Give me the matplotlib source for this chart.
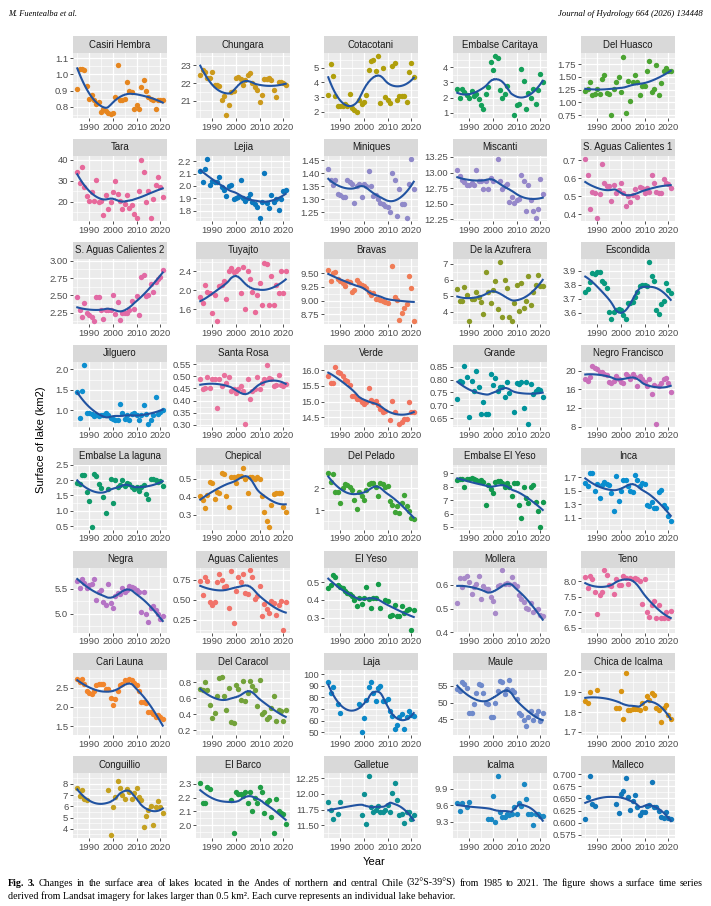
import matplotlib
matplotlib.use('Agg')
import matplotlib.pyplot as plt
import numpy as np

# one value per year 1985..2021, None = no image that year
years = list(range(1985, 2022))

casiri_hembra = [0.91, 1.03, 1.035, 1.025, 0.93, 0.85, 0.87, 0.84, 0.82, 0.83, 0.77, 0.79, 0.775, 0.76, 0.755, 0.76, 0.86, 1.055, 0.84, 0.845,
                 0.85, 0.95, 0.9, 0.89, 0.79, 0.81, 0.79, 0.92, 0.965, 0.895, 0.86, 0.85, 0.84, 0.785, 0.84, 0.845, 0.84]
chungara = [22.45, 22.75, 22.6, 22.3, 22.3, 22.6, 21.9, 21.9, 21.85, 21.05, 21.3, 20.2, 20.75, 21.5, 21.55, 22.3, 22.35, 22.25, 21.9, 22.15,
            22.45, 22.55, 22.0, 21.8, 21.6, 20.95, 21.35, 22.25, 22.25, 22.3, 22.15, 21.6, 21.2, 22.05, 22.05, 22.0, 21.9]
cotacotani = [3.15, 5.25, 4.45, 3.1, 2.4, 2.4, 2.4, 2.5, 2.4, 3.2, 2.25, 2.1, 2.0, 2.8, 2.55, 2.65, 3.15, 4.85, 5.45, 5.55,
              4.8, 5.8, 2.6, 5.0, 3.0, 2.8, 2.6, 5.1, 5.3, 2.8, 3.1, 3.1, 3.1, 2.7, 4.7, 5.3, 4.4]
embalse_caritaya = [2.6, 2.0, 2.6, 2.35, 2.15, 2.0, 2.45, 2.1, 2.25, 1.9, 1.5, 1.25, 2.25, 2.7, 4.35, 3.85, 4.75, 4.6, 2.5, 2.0,
                    2.25, 2.75, None, None, 0.85, 1.5, 1.55, 3.9, 3.1, 1.25, 2.3, 2.0, 2.55, 1.6, 2.5, 3.55, 3.05]
del_huasco = [1.22, 1.27, 1.4, 1.15, 1.17, 1.27, 1.17, 1.45, 1.53, 1.19, 1.16, 0.75, 1.27, 1.39, 1.5, 1.2, 1.9, 0.8, 1.42, 1.02,
              1.4, 1.53, 1.4, 1.15, 1.33, 1.32, 1.61, 1.81, 1.2, 1.27, 1.73, 1.14, 1.37, 1.61, 1.68, 1.61, 1.62]
tara = [33.9, 28.9, 36.7, 26.9, 22.7, 20.3, 24.5, 20.2, 30.3, 19.8, 20.2, 13.9, 23.0, 16.7, 19.8, 24.5, 30.0, 23.8, 20.2, 16.7,
        19.0, 23.3, 17.0, 18.3, 14.4, 12.3, 25.3, 39.7, 33.9, 19.8, 25.0, 12.5, 21.1, 28.0, 31.9, 26.9, 22.2]
lejia = [2.12, 2.03, 2.14, 2.22, 2.01, 2.04, 2.03, 2.035, 2.075, 1.99, 1.97, 1.915, 2.0, 2.01, 1.895, 1.9, 1.91, 2.05, 1.905, 1.88,
         1.9, 1.935, 1.87, 1.855, 1.83, 1.74, 1.87, 2.105, 1.865, 1.82, 1.93, 1.87, 1.895, 1.805, 1.89, 1.96, 1.965]
miniques = [1.415, 1.375, 1.355, 1.372, 1.32, 1.315, 1.31, 1.31, 1.375, 1.366, 1.357, 1.285, 1.35, 1.357, 1.31, 1.357, 1.35, 1.41, 1.35, 1.312,
            1.316, 1.30, 1.285, 1.28, 1.275, 1.27, 1.25, 1.40, 1.372, 1.237, 1.34, 1.283, 1.28, 1.228, 1.36, 1.455, 1.34]
miscanti = [13.04, 12.95, 12.88, 12.84, 12.8, 12.8, 12.83, 12.8, 13.04, 12.87, 12.87, 12.73, 12.87, 12.74, 12.91, 12.87, None, 13.22, 12.86, 12.73,
            12.79, 12.81, 12.53, 12.6, 12.51, 12.56, 12.58, 12.96, 12.86, 12.38, 12.8, 12.56, 12.38, 12.27, 12.41, 12.9, 12.65]
s_aguas_calientes_1 = [0.707, 0.618, 0.43, 0.525, 0.518, 0.38, 0.513, 0.676, 0.571, 0.558, 0.558, 0.476, 0.565, 0.518, 0.536, 0.576, 0.518, 0.445, 0.504, 0.467,
                       0.507, 0.54, 0.495, 0.549, 0.544, 0.516, 0.544, 0.522, 0.616, 0.576, 0.522, 0.516, 0.518, 0.598, 0.576, 0.567, 0.544]
s_aguas_calientes_2 = [2.48, 2.29, 2.18, 2.39, 2.24, 2.21, 2.18, 2.13, 2.47, 2.47, 2.29, 2.15, 2.29, 2.29, 2.28, 2.5, 2.23, 2.4, 2.14, 2.24,
                       2.25, 2.25, 2.29, 2.42, 2.3, 2.49, 2.21, 2.77, 2.8, 2.49, 2.51, 2.66, 2.55, 2.69, 2.74, 2.77, 2.87]
tuyajto = [1.86, 1.72, 2.12, 1.96, 1.94, 1.51, 1.89, 1.35, 2.08, 2.12, 2.19, 1.82, 2.41, 2.47, 2.38, 2.40, 2.45, 1.94, 2.49, 1.61,
           2.40, 2.24, 1.96, 1.53, 1.89, 2.15, 1.68, 2.58, 2.56, 1.68, 2.29, 1.68, 2.1, 1.93, 2.4, 1.93, 2.4]
bravas = [9.55, 9.35, 9.5, 9.52, 9.39, 9.35, 9.31, 9.27, 9.35, 9.33, 9.15, 9.2, 9.37, 9.32, 9.29, 9.27, 9.23, 9.15, 9.1, 9.14,
          9.03, 9.02, 9.01, 9.0, 8.98, 8.95, None, 9.63, 9.07, 9.01, 8.65, 8.77, 8.87, 8.93, 9.44, 9.22, 8.63]
de_la_azufrera = [5.42, 4.69, 4.69, 5.52, 5.04, 3.44, 4.79, 4.79, 5.25, 4.9, 4.63, 3.85, 6.5, 5.25, 4.58, 5.37, 5.94, 4.17, 7.12, 3.71,
                  6.0, 5.46, 3.71, 3.44, 4.58, 5.67, 4.06, 5.79, 4.27, 4.69, 6.25, 4.42, 5.25, 5.67, 6.29, 5.58, 5.58]
escondida = [3.746, 3.77, 3.817, 3.883, 3.876, 3.892, 3.892, 3.828, 3.812, 3.774, 3.608, 3.556, 3.608, 3.622, 3.627, 3.616, 3.585, 3.556, 3.67, 3.67,
             3.675, 3.71, 3.75, 3.788, 3.798, 3.798, 3.788, 3.963, 3.86, 3.828, 3.622, 3.592, 3.663, 3.68, 3.812, 3.765, 3.74]
jilguero = [1.45, 0.81, 1.48, 2.11, 0.94, 0.94, 0.92, 0.86, 0.89, 0.86, 0.88, 0.88, 0.93, 0.88, 0.81, 0.8, 0.76, 0.78, 1.16, 0.94,
            0.8, 0.89, 0.76, 0.92, 0.94, 0.88, 0.76, 0.88, 1.13, 0.92, 0.68, 0.76, 0.89, 1.32, 0.92, 0.96, 1.02]
santa_rosa = [0.487, 0.449, 0.453, 0.496, 0.453, 0.487, 0.487, 0.371, 0.487, 0.46, 0.507, 0.473, 0.498, 0.439, 0.446, 0.43, 0.446, 0.46, 0.439, 0.305,
              0.487, 0.408, 0.439, 0.449, 0.498, 0.446, 0.473, 0.487, 0.548, 0.494, 0.49, 0.46, 0.466, 0.507, 0.466, 0.46, 0.47]
verde = [15.83, 15.6, 15.6, 16.1, 15.94, 15.92, 15.83, 15.7, 15.66, 15.52, 15.19, 15.17, 15.08, 15.08, 14.98, 14.93, 14.98, 15.45, 15.06, 14.98,
         15.03, 14.88, 14.77, 14.67, 14.69, None, 14.43, 15.03, 14.67, None, 14.3, 14.37, 14.46, 14.46, 15.0, 14.67, 14.67]
grande = [0.723, 0.796, 0.792, 0.854, 0.809, 0.654, 0.796, 0.754, 0.835, 0.77, 0.667, 0.712, 0.667, 0.667, 0.822, 0.777, 0.805, 0.757, 0.77, 0.77,
          0.732, 0.79, 0.748, None, 0.674, 0.787, 0.783, 0.79, 0.689, 0.79, 0.628, 0.783, 0.745, 0.757, 0.764, 0.761, 0.732]
negro_francisco = [18.1, 17.8, 18.7, 21.0, 20.6, 20.3, 19.7, 19.6, 19.2, 19.0, 17.6, 17.4, 17.8, 18.9, 18.1, 17.6, 17.3, 19.2, 18.9, 18.1,
                   19.2, 18.7, 16.7, 18.9, 18.1, 17.6, 16.7, 18.1, 14.9, 16.9, 8.6, 16.7, 17.4, 18.1, 18.5, 17.3, 15.4]
embalse_la_laguna = [1.9, 1.87, 2.16, 2.16, 1.62, 1.33, 0.49, 2.19, 2.12, 1.87, 1.73, 1.44, 0.93, 1.71, 2.03, 1.25, 2.01, 1.76, 1.84, 2.01,
                     1.82, 1.92, 1.87, 1.76, 1.71, 1.76, 1.65, 1.76, 1.84, 1.55, 1.38, 2.03, 2.05, 2.01, 1.95, 1.98, 1.8]
chepical = [0.404, 0.381, 0.339, 0.407, 0.481, 0.474, 0.389, 0.426, 0.419, 0.533, 0.524, 0.404, 0.344, 0.511, 0.506, 0.478, 0.515, 0.515, 0.561, 0.496,
            0.422, 0.511, 0.506, 0.5, 0.511, 0.5, 0.404, 0.315, 0.265, 0.233, 0.352, 0.413, 0.419, 0.419, 0.422, 0.344, 0.315]
del_pelado = [2.7, 2.3, 2.64, 1.85, 1.85, 1.33, 2.0, 2.19, 2.15, 2.07, 1.93, 1.48, 1.06, 1.85, 1.66, 1.45, 1.93, 2.19, 2.25, 2.22,
              2.04, 1.63, 2.22, 2.19, 2.04, 2.1, 1.4, 1.25, 0.91, 1.18, 0.85, 1.33, 1.7, 1.18, 0.96, 0.66, 0.58]
embalse_el_yeso = [8.5, 8.55, 8.6, 8.0, 8.6, 8.55, 8.67, 8.6, 8.5, 8.42, 8.5, 8.35, 6.61, 8.1, 7.85, 7.5, 8.35, 8.42, 8.42, 8.3,
                   8.0, 8.3, 8.0, 7.31, 8.25, 8.25, 6.61, 5.69, 8.0, 7.18, 6.76, 8.0, 8.17, 6.86, 6.19, 5.02, 6.86]
inca = [1.62, 1.57, 1.76, 1.76, 1.5, 1.6, 1.39, 1.58, 1.63, 1.6, 1.58, 1.47, 1.2, 1.72, 1.35, 1.5, 1.66, 1.65, 1.57, 1.49,
        1.48, 1.73, 1.65, 1.57, 1.61, 1.6, 1.29, 1.28, 1.33, 1.25, 1.24, 1.48, 1.51, 1.29, 1.25, 1.13, 1.05]
negra = [5.65, 5.51, 5.69, 5.6, 5.51, 5.56, 5.58, 5.68, 5.28, 5.43, 5.47, 5.23, 5.18, 5.58, 5.21, 5.11, 5.36, 5.41, 5.4, 5.51,
         5.43, 5.48, 5.55, 5.53, 5.51, 5.48, 5.43, 5.03, 5.43, 5.0, 4.83, 5.11, 5.15, 5.08, 5.0, 4.89, 4.95]
aguas_calientes = [0.742, 0.559, 0.784, 0.742, 0.475, 0.432, 0.475, 0.72, 0.826, 0.754, 0.657, 0.678, 0.403, 0.856, 0.212, 0.614, 0.784, 0.729, 0.826, 0.585,
                   0.572, 0.869, 0.784, 0.508, 0.551, 0.669, 0.297, 0.445, 0.39, 0.339, 0.487, 0.466, 0.305, 0.432, 0.487, 0.127, 0.475]
el_yeso = [0.469, 0.484, 0.54, 0.527, 0.484, 0.475, 0.465, 0.452, 0.441, 0.434, 0.419, 0.4, 0.363, 0.409, 0.378, 0.409, 0.475, 0.404, 0.353, 0.409,
           0.41, 0.49, 0.353, None, 0.4, 0.396, 0.307, 0.316, 0.372, 0.31, 0.307, 0.366, 0.325, 0.34, 0.348, 0.232, 0.34]
mollera = [0.522, 0.627, 0.589, 0.627, 0.635, 0.613, 0.56, 0.589, 0.603, 0.638, 0.542, 0.596, 0.584, 0.584, 0.55, 0.532, 0.482, 0.593, 0.599, 0.66,
           0.603, 0.607, 0.603, 0.631, 0.603, 0.596, 0.556, 0.542, 0.528, 0.504, 0.499, 0.522, 0.485, 0.494, 0.499, 0.475, 0.471]
teno = [8.14, 7.79, 8.17, 8.09, 7.64, 6.93, 7.55, 7.64, 8.35, 8.21, 7.89, 7.85, 7.6, 8.09, 7.89, 7.89, 8.17, 8.11, 7.92, 8.11,
        8.06, 8.11, 8.09, 8.0, 7.28, 8.06, 7.01, 6.85, 7.23, 7.36, 6.82, 7.25, 6.82, 6.82, 7.01, 6.82, 7.04]
cari_launa = [2.71, 2.65, 2.71, 2.6, 2.4, 2.36, 2.33, 2.4, 2.56, 2.58, 2.6, 2.6, 2.45, 2.45, 2.24, 2.06, 2.2, 2.4, 2.56, 2.6,
              2.69, 2.67, 2.71, 2.69, 2.63, 2.56, 2.4, 2.12, 2.12, 2.09, 1.87, 1.87, 1.82, 1.73, 1.78, 1.73, 1.69]
del_caracol = [0.72, 0.697, 0.8, 0.697, 0.515, 0.349, 0.41, 0.631, 0.85, 0.86, 0.631, 0.457, 0.728, 0.302, 0.29, 0.766, 0.72, 0.58, 0.81, 0.565,
               0.67, 0.81, 0.747, 0.708, 0.503, 0.825, 0.4, 0.426, 0.333, 0.36, 0.476, 0.631, 0.31, 0.457, 0.437, 0.31, 0.449]
laja = [93, 84, 89, None, 74, 67, None, None, None, None, None, None, None, 74, 50, 62, 78, 89, 93, 84,
        77, 88, 90, 77, 77, 79, 68, 64, 53, 56, 63, 66, 53, 63, 68, 65, 64]
maule = [54, 53.5, 56.2, 55.5, 54.5, 46.8, 47, 49.5, 52.8, 55.5, 55.2, 52.8, 49.8, 49.5, 45.8, 45.8, 50, 53.5, 56.5, 56.2,
         52.5, 54.2, 56.8, 53.8, 53.2, 51.2, 47, 46.2, 44.8, 43, 45.8, 47.5, 44.8, 46.2, 47.5, 44.5, 46.8]
chica_de_icalma = [1.858, 1.845, 1.9, None, None, 1.913, None, None, None, None, None, None, None, 1.82, 1.82, 1.908, 1.767, 1.995, 1.808, 1.808,
                   1.813, 1.817, 1.817, 1.808, 1.847, 1.82, 1.88, 1.863, 1.897, 1.887, 1.82, 1.808, 1.75, 1.82, 1.833, 1.783, 1.767]
conguillio = [7.66, 6.94, 7.45, 6.64, 6.55, None, None, None, None, None, None, None, None, 7.45, 3.42, 5.96, 6.85, 8.25, 7.66, 7.0,
              6.64, 7.54, 7.3, 6.64, 7.15, 7.66, 6.85, 6.55, 4.16, 5.15, 5.66, 6.04, 4.31, 5.96, 6.46, 5.96, 5.36]
el_barco = [2.31, 2.16, 2.16, 2.28, 2.26, None, None, None, None, None, None, None, None, 2.18, 1.94, 2.24, 2.23, 2.23, 2.21, 2.24,
            2.16, 2.24, 2.1, 2.2, 2.16, 2.28, 2.24, 2.09, 2.17, 2.18, 2.06, 1.94, 2.19, 2.1, 2.09, 2.08, 2.01]
galletue = [11.87, 11.74, 11.61, None, 11.68, 11.87, None, None, None, None, None, None, None, None, 11.67, 12.0, 11.52, 12.28, 11.79, 11.72,
            11.74, 11.81, 11.72, 11.72, 11.74, 11.83, 11.72, 12.02, 12.17, 11.91, 11.66, 11.68, 11.54, 11.72, 11.72, 11.61, 11.67]
icalma = [9.64, 9.5, 9.64, None, 9.56, 9.65, None, None, None, None, None, None, None, 9.36, 9.36, 9.76, 9.3, 10.12, 9.48, 9.38,
          9.39, 9.44, 9.42, 9.45, 9.56, 9.45, 9.64, 9.59, 9.98, 9.72, 9.45, 9.44, 9.24, 9.45, 9.45, 9.41, 9.41]
malleco = [0.608, 0.653, 0.696, 0.638, 0.634, None, None, None, None, None, None, None, None, 0.638, 0.62, 0.66, 0.665, 0.692, 0.653, 0.626,
           0.645, 0.657, 0.633, 0.616, 0.623, 0.623, 0.635, 0.636, 0.684, 0.633, 0.633, 0.624, 0.611, 0.609, 0.623, 0.609, 0.608]

lakes = ['Casiri Hembra', 'Chungara', 'Cotacotani', 'Embalse Caritaya', 'Del Huasco',
         'Tara', 'Lejia', 'Miniques', 'Miscanti', 'S. Aguas Calientes 1',
         'S. Aguas Calientes 2', 'Tuyajto', 'Bravas', 'De la Azufrera', 'Escondida',
         'Jilguero', 'Santa Rosa', 'Verde', 'Grande', 'Negro Francisco',
         'Embalse La laguna', 'Chepical', 'Del Pelado', 'Embalse El Yeso', 'Inca',
         'Negra', 'Aguas Calientes', 'El Yeso', 'Mollera', 'Teno',
         'Cari Launa', 'Del Caracol', 'Laja', 'Maule', 'Chica de Icalma',
         'Conguillio', 'El Barco', 'Galletue', 'Icalma', 'Malleco']

series = [casiri_hembra, chungara, cotacotani, embalse_caritaya, del_huasco,
          tara, lejia, miniques, miscanti, s_aguas_calientes_1,
          s_aguas_calientes_2, tuyajto, bravas, de_la_azufrera, escondida,
          jilguero, santa_rosa, verde, grande, negro_francisco,
          embalse_la_laguna, chepical, del_pelado, embalse_el_yeso, inca,
          negra, aguas_calientes, el_yeso, mollera, teno,
          cari_launa, del_caracol, laja, maule, chica_de_icalma,
          conguillio, el_barco, galletue, icalma, malleco]

colors = ['#E6861F', '#CC9A1C', '#B09F0B', '#15A05A', '#4CA432',
          '#E7699B', '#0B78BE', '#8F89C9', '#9688CA', '#DA6DAA',
          '#E26AA5', '#E96A98', '#F07C56', '#8A9A26', '#089A7E',
          '#0E8FCF', '#E9719C', '#F1735E', '#00939B', '#C96FBA',
          '#0F9A6A', '#E1931C', '#3FA436', '#12994E', '#0A8ECF',
          '#B574C5', '#F1736A', '#159B48', '#A88AC9', '#E66B9D',
          '#F2852C', '#73A23A', '#0B88C8', '#6F8ACB', '#D99412',
          '#C4A121', '#219E46', '#0D9093', '#1A88C3', '#1278BA']

yticks = [[0.8, 0.9, 1.0, 1.1], [21, 22, 23], [2, 3, 4, 5], [1, 2, 3, 4], [0.75, 1.0, 1.25, 1.5, 1.75],
          [20, 30, 40], [1.8, 1.9, 2.0, 2.1, 2.2], [1.25, 1.30, 1.35, 1.40, 1.45], [12.25, 12.5, 12.75, 13.0, 13.25], [0.4, 0.5, 0.6, 0.7],
          [2.25, 2.5, 2.75, 3.0], [1.6, 2.0, 2.4], [8.75, 9.0, 9.25, 9.5], [4, 5, 6, 7], [3.6, 3.7, 3.8, 3.9],
          [1.0, 1.5, 2.0], [0.30, 0.35, 0.40, 0.45, 0.50, 0.55], [14.5, 15.0, 15.5, 16.0], [0.65, 0.70, 0.75, 0.80, 0.85], [8, 12, 16, 20],
          [0.5, 1.0, 1.5, 2.0, 2.5], [0.3, 0.4, 0.5], [1, 2], [5, 6, 7, 8, 9], [1.1, 1.3, 1.5, 1.7],
          [5.0, 5.5], [0.25, 0.5, 0.75], [0.3, 0.4, 0.5], [0.4, 0.5, 0.6], [6.5, 7.0, 7.5, 8.0],
          [1.5, 2.0, 2.5], [0.2, 0.4, 0.6, 0.8], [50, 60, 70, 80, 90, 100], [40, 45, 50, 55], [1.7, 1.8, 1.9, 2.0],
          [4, 5, 6, 7, 8], [1.9, 2.0, 2.1, 2.2, 2.3], [11.5, 11.75, 12.0, 12.25], [9.0, 9.3, 9.6, 9.9], [0.575, 0.6, 0.625, 0.65, 0.675, 0.7]]

xticks = [1990, 2000, 2010, 2020]
SPAN = 0.75


def loess_rows(x, x0s, span):
    # rows of the local-quadratic smoother matrix (tricube weights)
    q = int(np.floor(len(x) * span))
    rows = []
    for x0 in x0s:
        d = np.abs(x - x0)
        h = np.sort(d)[q - 1]
        w = np.clip(1 - (d / h) ** 3, 0, None) ** 3
        A = np.vstack([np.ones_like(x), x - x0, (x - x0) ** 2]).T
        M = A.T @ (A * w[:, None])
        rows.append(np.linalg.solve(M, (A * w[:, None]).T)[0])
    return np.array(rows)


def smooth(x, y, n=80, span=SPAN):
    xs = np.linspace(x.min(), x.max(), n)
    Ls = loess_rows(x, xs, span)
    L = loess_rows(x, x, span)
    fit = Ls @ y
    R = np.eye(len(x)) - L
    RR = R.T @ R
    d1 = np.trace(RR)
    d2 = np.trace(RR @ RR)
    sigma = np.sqrt(np.sum((R @ y) ** 2) / d1)
    df = d1 ** 2 / d2
    z = 1.959964
    t = z + (z ** 3 + z) / (4 * df) + (5 * z ** 5 + 16 * z ** 3 + 3 * z) / (96 * df ** 2)
    se = sigma * np.sqrt(np.sum(Ls ** 2, axis=1))
    return xs, fit, fit - t * se, fit + t * se


def fmt(ticks):
    dec = 0
    for t in ticks:
        s = ('%.6f' % t).rstrip('0').rstrip('.')
        if '.' in s:
            dec = max(dec, len(s.split('.')[1]))
    return ['%.*f' % (dec, t) for t in ticks]


W, H = 711, 906
fig = plt.figure(figsize=(W / 100, H / 100), dpi=100)
fig.patch.set_facecolor('white')

col_left = [73, 196, 324, 453, 581]
pw, ph, sh = 94, 65, 17
row_top = [36 + 102.9 * r for r in range(8)]
sans = 'Liberation Sans'
xlim = (1983.2, 2022.8)

for i, name in enumerate(lakes):
    r, c = divmod(i, 5)
    left, top = col_left[c], row_top[r]
    st = fig.add_axes([left / W, 1 - (top + sh) / H, pw / W, sh / H])
    st.set_facecolor('#D9D9D9')
    st.set_xticks([]); st.set_yticks([])
    for s in st.spines.values():
        s.set_visible(False)
    st.text(0.5, 0.5, name, ha='center', va='center', fontsize=6.9, color='#1A1A1A',
            family=sans, transform=st.transAxes)

    ax = fig.add_axes([left / W, 1 - (top + sh + ph) / H, pw / W, ph / H])
    ax.set_facecolor('#EBEBEB')
    for s in ax.spines.values():
        s.set_visible(False)

    yv = np.array([np.nan if v is None else v for v in series[i]], dtype=float)
    xv = np.array(years, dtype=float)
    ok = ~np.isnan(yv)
    xv, yv = xv[ok], yv[ok]
    xs, ys, band_lo, band_hi = smooth(xv, yv)

    # scale trained on points, curve and its (undrawn) confidence band
    lo = min(yv.min(), band_lo.min()); hi = max(yv.max(), band_hi.max())
    pad = 0.05 * (hi - lo)
    ymin, ymax = lo - pad, hi + pad
    ax.set_xlim(*xlim)

    tk = yticks[i]
    step = tk[1] - tk[0]
    minors = [m for m in np.arange(tk[0] - step / 2, tk[-1] + step, step) if ymin <= m <= ymax]
    for m in minors:
        ax.axhline(m, color='white', lw=0.45, zorder=0.5)
    for m in [1985, 1995, 2005, 2015]:
        ax.axvline(m, color='white', lw=0.45, zorder=0.5)
    for t in tk:
        ax.axhline(t, color='white', lw=0.9, zorder=0.6)
    for t in xticks:
        ax.axvline(t, color='white', lw=0.9, zorder=0.6)

    ax.scatter(xv, yv, s=15, color=colors[i], linewidths=0, zorder=2)
    ax.plot(xs, ys, color='#2153A1', lw=1.5, zorder=3)

    ax.set_yticks(tk)
    ax.set_yticklabels(fmt(tk))
    ax.set_xticks(xticks)
    ax.set_xticklabels([str(t) for t in xticks])
    ax.set_ylim(ymin, ymax)
    ax.tick_params(length=2.2, width=0.6, color='#333333', labelsize=6.8, labelcolor='#4D4D4D', pad=1.2)
    for lab in ax.get_xticklabels() + ax.get_yticklabels():
        lab.set_family(sans)

fig.text(41.5 / W, 1 - 440 / H, 'Surface of lake (km2)', rotation=90, ha='center', va='center',
         fontsize=8, family=sans, color='black')
fig.text(374 / W, 1 - 862 / H, 'Year', ha='center', va='center', fontsize=8, family=sans, color='black')

serif = 'Liberation Serif'
fig.text(8 / W, 1 - 14 / H, 'M. Fuentealba et al.', ha='left', va='center', fontsize=6,
         family=serif, style='italic')
fig.text(703 / W, 1 - 14 / H, 'Journal of Hydrology 664 (2026) 134448', ha='right', va='center',
         fontsize=6.3, family=serif, style='italic')

# caption: first line justified to the full text width, as in the journal layout
fig.canvas.draw()
rend = fig.canvas.get_renderer()
cap_size = 7.2
bold_words = ['Fig.', '3.']
line1 = ('Changes in the surface area of lakes located in the Andes of northern and central Chile '
         '(32\u00b0S-39\u00b0S) from 1985 to 2021. The figure shows a surface time series').split(' ')
words = [(w, 'bold') for w in bold_words] + [(w, 'normal') for w in line1]
widths = []
for w, wt in words:
    t = fig.text(0, 0, w, fontsize=cap_size, family=serif, weight=wt)
    widths.append(t.get_window_extent(renderer=rend).width)
    t.remove()
x_left, x_right = 8.0, 703.0
gap = (x_right - x_left - sum(widths)) / (len(words) - 1)
xpos = x_left
for k, ((w, wt), wd) in enumerate(zip(words, widths)):
    fig.text(xpos / W, 1 - 883 / H, w, ha='left', va='center', fontsize=cap_size, family=serif, weight=wt)
    xpos += wd + gap
fig.text(8 / W, 1 - 896 / H,
         'derived from Landsat imagery for lakes larger than 0.5 km\u00b2. Each curve represents an individual lake behavior.',
         ha='left', va='center', fontsize=cap_size, family=serif)

fig.savefig('out.png', dpi=100)
